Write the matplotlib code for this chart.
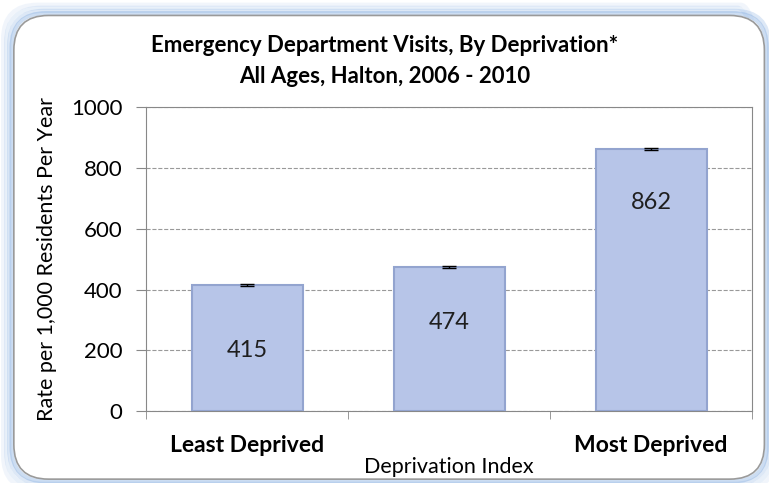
import matplotlib.pyplot as plt
from matplotlib.patches import FancyBboxPatch

categories = ["Least Deprived", "", "Most Deprived"]
rates = [415, 474, 862]
errors = [4, 3, 4]

plt.rcParams['font.family'] = ['Lato', 'DejaVu Sans']

fig = plt.figure(figsize=(7.69, 4.83), dpi=100)
aspect = 7.69 / 4.83

# rounded frame with soft blue glow
for pad, alpha in [(0.014, 0.12), (0.010, 0.2), (0.006, 0.3), (0.003, 0.45)]:
    fig.patches.append(FancyBboxPatch((0.018 - pad, 0.008 - pad * aspect), 0.976 + 2 * pad,
                                      0.96 + 2 * pad * aspect,
                                      boxstyle="round,pad=0,rounding_size=0.045",
                                      mutation_aspect=aspect,
                                      transform=fig.transFigure, facecolor='none',
                                      edgecolor='#8fb4e3', linewidth=3, alpha=alpha, zorder=-5))
fig.patches.append(FancyBboxPatch((0.018, 0.008), 0.976, 0.96,
                                  boxstyle="round,pad=0,rounding_size=0.045",
                                  mutation_aspect=aspect,
                                  transform=fig.transFigure, facecolor='white',
                                  edgecolor='#9a9a9a', linewidth=1.2, zorder=-4))

ax = fig.add_axes([0.190, 0.149, 0.788, 0.629])
ax.patch.set_alpha(0)
x = range(len(rates))
ax.bar(x, rates, width=0.55, color='#b7c5e8', edgecolor='#93a4cf', linewidth=1.5, zorder=3)
ax.errorbar(x, rates, yerr=errors, fmt='none', ecolor='black', capsize=5, linewidth=1, zorder=4)

# value labels inside bars
label_y = [200, 290, 685]
for xi, v, ly in zip(x, rates, label_y):
    ax.text(xi, ly, str(v), ha='center', va='center', fontsize=17, color='#1f1f1f', zorder=5)

ax.set_ylim(0, 1000)
ax.set_xlim(-0.5, 2.5)
ax.set_yticks(range(0, 1001, 200))
ax.tick_params(axis='y', labelsize=16, length=7, color='#888888', pad=10)
ax.set_xticks(list(x))
ax.set_xticklabels(categories, fontsize=16.5, fontweight='bold')
ax.tick_params(axis='x', which='major', length=0, pad=17)
ax.set_xticks([-0.5, 0.5, 1.5, 2.5], minor=True)
ax.tick_params(axis='x', which='minor', length=6, color='#888888')
ax.grid(axis='y', linestyle='--', color='#999999', linewidth=0.8, zorder=0)
for s in ax.spines.values():
    s.set_color('#888888')

ax.set_xlabel('Deprivation Index', fontsize=15.5, labelpad=1)
ax.set_ylabel('Rate per 1,000 Residents Per Year', fontsize=15.5, labelpad=10)
fig.text(0.5, 1 - 61 / 483, 'Emergency Department Visits, By Deprivation*\nAll Ages, Halton, 2006 - 2010',
         ha='center', va='center', fontsize=16, fontweight='bold', linespacing=1.55)

fig.savefig('out.png', dpi=100)
